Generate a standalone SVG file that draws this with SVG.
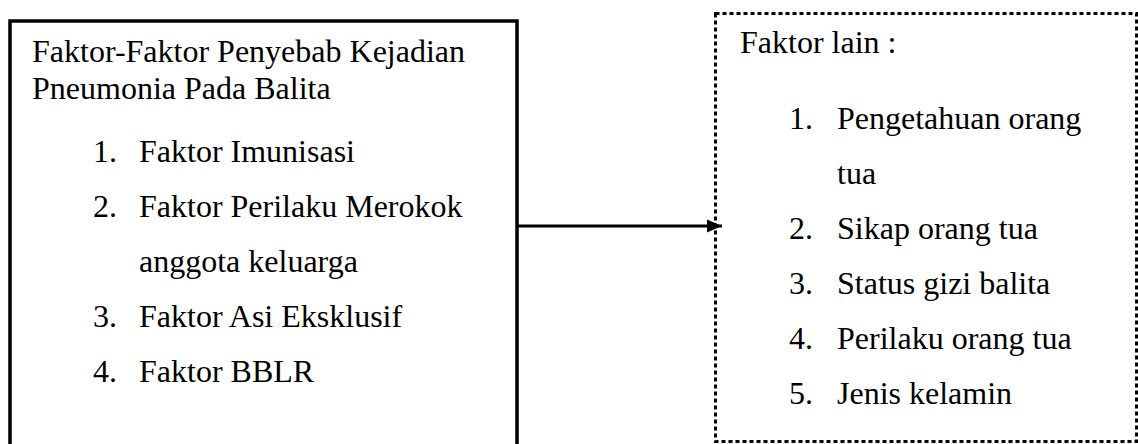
<svg xmlns="http://www.w3.org/2000/svg" width="1138" height="444" viewBox="0 0 1138 444">
<style>
text{font-family:"Liberation Serif","Times New Roman",serif;font-size:32px;fill:#000}
.solid{fill:none;stroke:#000;stroke-width:3.5}
.dot{fill:none;stroke:#000;stroke-width:3;stroke-dasharray:4 3}
</style>
<defs>
<marker id="ah" markerWidth="15" markerHeight="14" refX="15" refY="7" orient="auto" markerUnits="userSpaceOnUse">
<path d="M0,0.5 L15,7 L0,13.5 Z" fill="#000"/>
</marker>
</defs>
<g id="node-left">
<path class="solid" d="M10,446 V21 H517 V446"/>
<text x="32" y="62">Faktor-Faktor Penyebab Kejadian</text>
<text x="32" y="99">Pneumonia Pada Balita</text>
<text x="93" y="162">1.</text><text x="139" y="162">Faktor Imunisasi</text>
<text x="93" y="217">2.</text><text x="139" y="217">Faktor Perilaku Merokok</text>
<text x="139" y="272">anggota keluarga</text>
<text x="93" y="327">3.</text><text x="139" y="327">Faktor Asi Eksklusif</text>
<text x="93" y="382">4.</text><text x="139" y="382">Faktor BBLR</text>
</g>
<g id="node-right">
<rect class="dot" x="715.5" y="13.5" width="421" height="428"/>
<text x="740" y="53">Faktor lain :</text>
<text x="789" y="129">1.</text><text x="837" y="129">Pengetahuan orang</text>
<text x="837" y="184">tua</text>
<text x="789" y="239">2.</text><text x="837" y="239">Sikap orang tua</text>
<text x="789" y="294">3.</text><text x="837" y="294">Status gizi balita</text>
<text x="789" y="349">4.</text><text x="837" y="349">Perilaku orang tua</text>
<text x="789" y="404">5.</text><text x="837" y="404">Jenis kelamin</text>
</g>
<g id="connectors">
<line x1="518" y1="226" x2="722" y2="226" stroke="#000" stroke-width="3" marker-end="url(#ah)"/>
</g>
</svg>
